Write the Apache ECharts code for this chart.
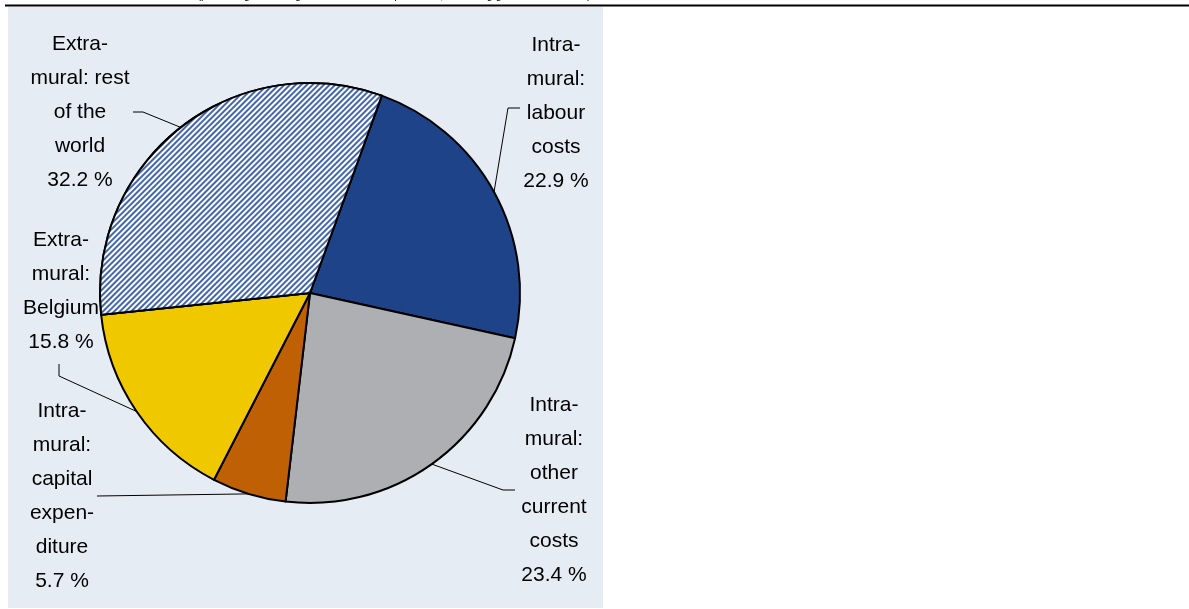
<!DOCTYPE html>
<html>
<head>
<meta charset="utf-8">
<script src="https://cdn.jsdelivr.net/npm/echarts@6/dist/echarts.min.js"></script>
<style>
  html, body { margin: 0; padding: 0; background: #fff; }
  #chart { width: 1189px; height: 609px; }
</style>
</head>
<body>
<div id="chart"></div>
<script>
  // data
  const categories = [
    'Intra-\nmural:\nlabour\ncosts',
    'Intra-\nmural:\nother\ncurrent\ncosts',
    'Intra-\nmural:\ncapital\nexpen-\nditure',
    'Extra-\nmural:\nBelgium',
    'Extra-\nmural: rest\nof the\nworld'
  ];
  const shares = [22.9, 23.4, 5.7, 15.8, 32.2];

  // label placement (centre of text block) and leader line bends
  const labelPos = [[556, 113], [554, 490], [62, 496], [61, 291], [80, 112]];
  const bendPts  = [[508, 108], [503, 490], [97, 496], [59, 376], [143, 112]];
  const endPts   = [[520, 108], [515, 490], [97, 496], [59, 364], [133, 112]];

  const colors = ['#1f4388', '#aeafb3', '#bf6004', '#f0c800', '#ffffff'];
  // hatching for rest of world
  const hatch = {
    symbol: 'rect',
    symbolSize: 1,
    dashArrayX: [1, 0],
    dashArrayY: [1.4, 1.6],
    rotation: -Math.PI / 4,
    color: '#4366b0',
    backgroundColor: '#ffffff'
  };

  const myChart = echarts.init(document.getElementById('chart'));

  myChart.setOption({
    animation: false,
    graphic: [
      {
        type: 'rect',
        z: -1,
        shape: { x: 8, y: 7, width: 595, height: 601 },
        style: { fill: '#e6ecf3' }
      },
      {
        type: 'line',
        shape: { x1: 5, y1: 5.5, x2: 1189, y2: 5.5 },
        style: { stroke: '#000', lineWidth: 2 }
      },
      {
        type: 'text',
        x: 394, y: -10,
        style: {
          text: '(percentage of total government R&D expenditure, excluding general overheads)',
          fill: '#000',
          font: '11px "Liberation Sans", Arial',
          align: 'center'
        }
      }
    ],
    series: [
      {
        type: 'pie',
        center: [310, 293],
        radius: 210,
        startAngle: 70,
        clockwise: true,
        avoidLabelOverlap: false,
        itemStyle: {
          borderColor: '#000',
          borderWidth: 2
        },
        label: {
          show: true,
          position: 'outside',
          color: '#000',
          fontFamily: '"Liberation Sans", Arial',
          fontSize: 21,
          lineHeight: 34,
          align: 'center',
          formatter: (p) => p.name + '\n' + p.value.toFixed(1) + ' %'
        },
        labelLine: {
          show: true,
          lineStyle: { color: '#000', width: 1 }
        },
        labelLayout: function (params) {
          const i = params.dataIndex;
          const start = params.labelLinePoints ? params.labelLinePoints[0] : bendPts[i];
          return {
            x: labelPos[i][0],
            y: labelPos[i][1],
            align: 'center',
            verticalAlign: 'middle',
            labelLinePoints: [start, bendPts[i], endPts[i]]
          };
        },
        data: categories.map((c, i) => ({
          name: c,
          value: shares[i],
          itemStyle: i === 4 ? { color: colors[i], decal: hatch } : { color: colors[i] }
        }))
      }
    ]
  });
</script>
</body>
</html>
